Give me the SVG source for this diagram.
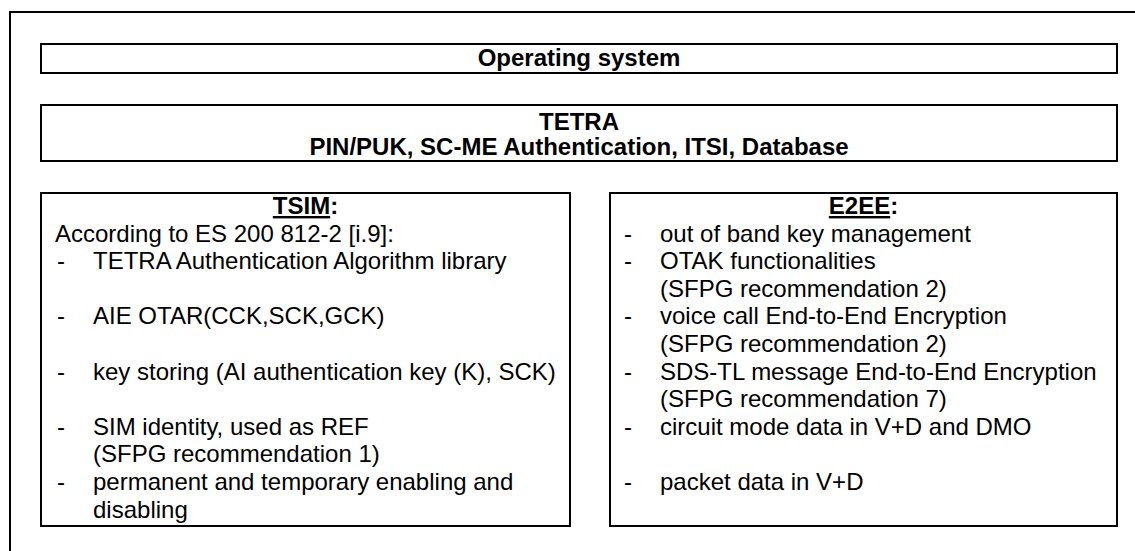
<svg xmlns="http://www.w3.org/2000/svg" width="1135" height="551" viewBox="0 0 1135 551">
<style>
.box{fill:#fff;stroke:#000;stroke-width:2}
.frame{fill:none;stroke:#000;stroke-width:2}
text{font-family:"Liberation Sans",Arial,sans-serif;font-size:24px;fill:#000}
.b{font-weight:bold}
.c{text-anchor:middle}
.u{text-decoration:underline}
</style>
<g id="frame"><path class="frame" d="M10,551 V12 H1135"/></g>
<g id="os">
<rect class="box" x="41" y="44" width="1076" height="29"/>
<text class="b c" x="579" y="66">Operating system</text>
</g>
<g id="tetra">
<rect class="box" x="41" y="105" width="1076" height="56"/>
<text class="b c" x="579" y="130">TETRA</text>
<text class="b c" x="579" y="155">PIN/PUK, SC-ME Authentication, ITSI, Database</text>
</g>
<g id="tsim">
<rect class="box" x="41" y="193" width="529" height="333"/>
<text class="b c" x="305.5" y="214"><tspan class="u">TSIM</tspan>:</text>
<text x="55" y="241.6">According to ES 200 812-2 [i.9]:</text>
<text x="57" y="269.2">-</text><text x="93" y="269.2">TETRA Authentication Algorithm library</text>
<text x="57" y="324.4">-</text><text x="93" y="324.4">AIE OTAR(CCK,SCK,GCK)</text>
<text x="57" y="379.6">-</text><text x="93" y="379.6">key storing (AI authentication key (K), SCK)</text>
<text x="57" y="434.8">-</text><text x="93" y="434.8">SIM identity, used as REF</text>
<text x="93" y="462.4">(SFPG recommendation 1)</text>
<text x="57" y="490">-</text><text x="93" y="490">permanent and temporary enabling and</text>
<text x="93" y="517.6">disabling</text>
</g>
<g id="e2ee">
<rect class="box" x="610" y="193" width="507" height="333"/>
<text class="b c" x="863.5" y="214"><tspan class="u">E2EE</tspan>:</text>
<text x="624" y="241.6">-</text><text x="660" y="241.6">out of band key management</text>
<text x="624" y="269.2">-</text><text x="660" y="269.2">OTAK functionalities</text>
<text x="660" y="296.8">(SFPG recommendation 2)</text>
<text x="624" y="324.4">-</text><text x="660" y="324.4">voice call End-to-End Encryption</text>
<text x="660" y="352">(SFPG recommendation 2)</text>
<text x="624" y="379.6">-</text><text x="660" y="379.6">SDS-TL message End-to-End Encryption</text>
<text x="660" y="407.2">(SFPG recommendation 7)</text>
<text x="624" y="434.8">-</text><text x="660" y="434.8">circuit mode data in V+D and DMO</text>
<text x="624" y="490">-</text><text x="660" y="490">packet data in V+D</text>
</g>
</svg>
